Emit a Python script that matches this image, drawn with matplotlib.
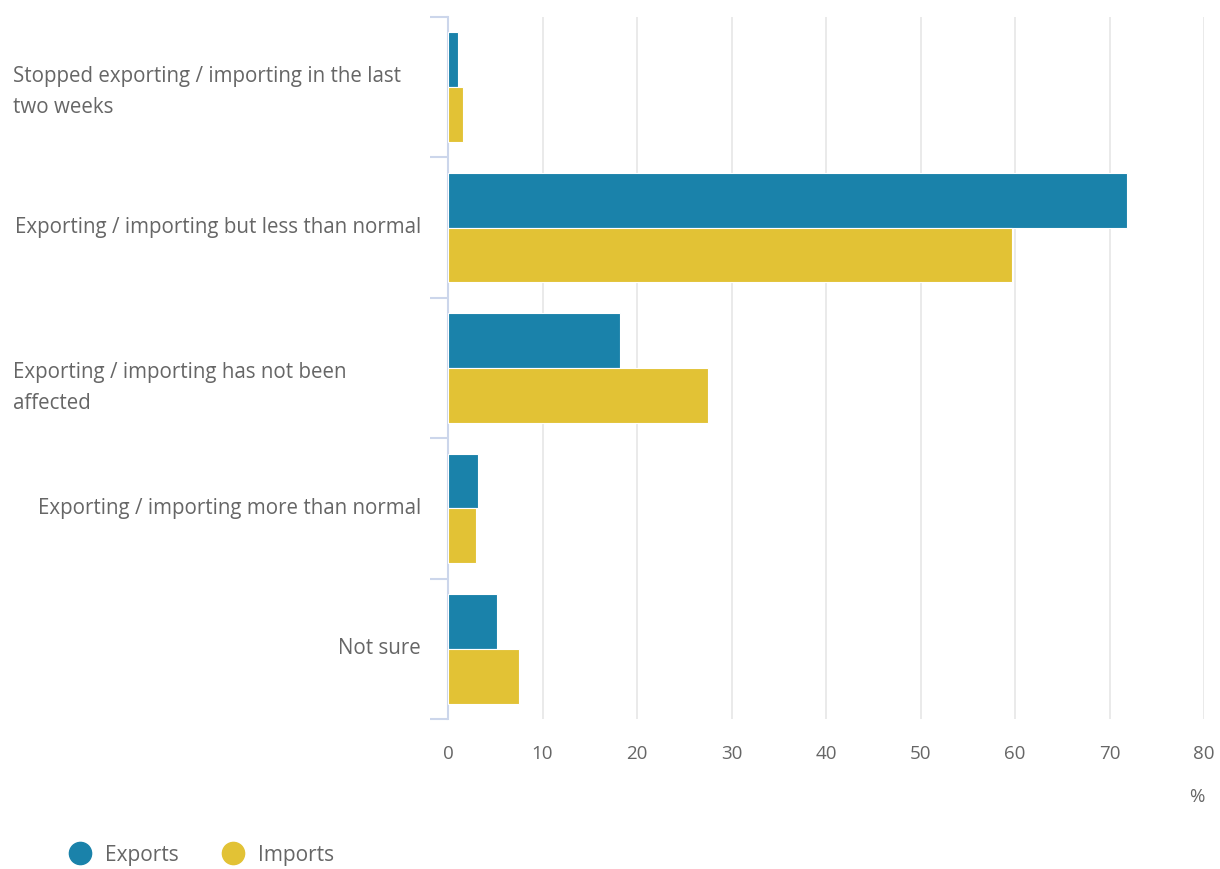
import matplotlib
matplotlib.use('Agg')
import matplotlib.pyplot as plt
import matplotlib.transforms as mtransforms
from matplotlib.lines import Line2D
import numpy as np

plt.rcParams['font.family'] = ['Open Sans', 'DejaVu Sans']

categories = ['Stopped exporting / importing in the last\ntwo weeks',
              'Exporting / importing but less than normal',
              'Exporting / importing has not been\naffected',
              'Exporting / importing more than normal',
              'Not sure']
exports = [1.1, 71.9, 18.2, 3.2, 5.2]
imports = [1.6, 59.7, 27.5, 3.0, 7.5]
series_names = ['Exports', 'Imports']
xticks = [0, 10, 20, 30, 40, 50, 60, 70, 80]

EXP_COLOR = '#1a82aa'
IMP_COLOR = '#e2c235'
TEXT_COLOR = '#666666'
AXIS_COLOR = '#ccd6eb'

fig = plt.figure(figsize=(12.2, 8.69), dpi=100)
ax = fig.add_axes([448 / 1220, 1 - 719 / 869, 756 / 1220, 702 / 869])

y = np.arange(len(categories))
h = 0.39
ax.barh(y - h / 2, exports, height=h, color=EXP_COLOR, edgecolor='white', linewidth=0.8, zorder=3)
ax.barh(y + h / 2, imports, height=h, color=IMP_COLOR, edgecolor='white', linewidth=0.8, zorder=3)

ax.set_xlim(0, 80)
ax.set_ylim(len(categories) - 0.5, -0.5)

# grid and axis styling
ax.set_xticks(xticks)
ax.set_xticklabels([str(t) for t in xticks], color=TEXT_COLOR, fontsize=13.5)
ax.tick_params(axis='x', length=0, pad=19)
ax.grid(axis='x', color='#e6e6e6', linewidth=1.2, zorder=0)
for s in ['top', 'right', 'bottom']:
    ax.spines[s].set_visible(False)
ax.spines['left'].set_color(AXIS_COLOR)
ax.spines['left'].set_linewidth(1.5)

ax.set_yticks(np.arange(len(categories) + 1) - 0.5)
ax.set_yticklabels([])
ax.tick_params(axis='y', length=13, width=1.5, color=AXIS_COLOR)

# category labels (wrapped ones sit left, a bit lower, like the original)
trans = ax.get_yaxis_transform()
wrap_shift = {0: -5, 2: -20}
for i, lab in enumerate(categories):
    if '\n' in lab:
        t = mtransforms.offset_copy(trans, fig=fig, x=0, y=wrap_shift[i], units='dots')
        ax.text((13 - 448) / 756, i, lab, transform=t, ha='left', va='center',
                fontsize=14.8, color=TEXT_COLOR, linespacing=1.65)
    else:
        ax.text((421 - 448) / 756, i, lab, transform=trans, ha='right', va='center',
                fontsize=14.8, color=TEXT_COLOR)

ax.text(1.0, (719 - 797) / 702, '%', transform=ax.transAxes, ha='right', va='center',
        fontsize=13.5, color=TEXT_COLOR)

handles = [Line2D([], [], marker='o', linestyle='none', markersize=16, color=c)
           for c in (EXP_COLOR, IMP_COLOR)]
fig.legend(handles, series_names, loc='center left', bbox_to_anchor=(51 / 1220, 1 - 855 / 869),
           ncol=2, frameon=False, fontsize=15, labelcolor=TEXT_COLOR,
           handletextpad=0.2, columnspacing=1.6, borderaxespad=0)

fig.savefig('out.png', dpi=100)
